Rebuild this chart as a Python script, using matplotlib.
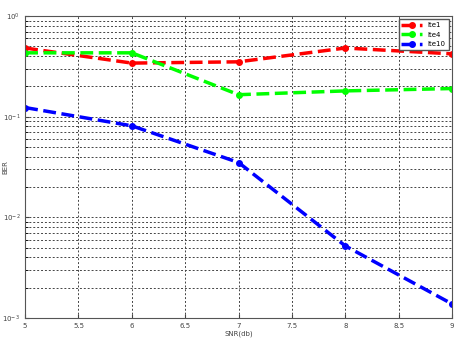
import matplotlib.pyplot as plt
from matplotlib.ticker import LogLocator, NullFormatter

# SNR values and BER for each iteration count
snr = [5, 6, 7, 8, 9]
ite1 = [0.48, 0.34, 0.35, 0.48, 0.42]
ite4 = [0.43, 0.43, 0.165, 0.18, 0.19]
ite10 = [0.123, 0.081, 0.035, 0.0052, 0.00138]

fig = plt.figure(figsize=(4.57, 3.46), dpi=100)
ax = fig.add_axes([0.055, 0.081, 0.934, 0.873])

ax.semilogy(snr, ite1, 'r--', marker='o', markersize=4, linewidth=2.5, label='Ite1')
ax.semilogy(snr, ite4, '--', color='#00ff00', marker='o', markersize=4, linewidth=2.5, label='Ite4')
ax.semilogy(snr, ite10, 'b--', marker='o', markersize=4, linewidth=2.5, label='Ite10')

ax.set_xlim(5, 9)
ax.set_ylim(1e-3, 1)
ax.set_xticks([5, 5.5, 6, 6.5, 7, 7.5, 8, 8.5, 9])
ax.set_xticklabels(['5', '5.5', '6', '6.5', '7', '7.5', '8', '8.5', '9'])
ax.yaxis.set_major_locator(LogLocator(base=10, numticks=10))
ax.yaxis.set_minor_locator(LogLocator(base=10, subs=range(2, 10), numticks=10))
ax.yaxis.set_minor_formatter(NullFormatter())

# dotted grid like the matlab "grid on"
ax.grid(True, which='both', linestyle=(0, (2, 2)), color='#444444', linewidth=0.7)
ax.tick_params(labelsize=5, colors='#444444', length=3, direction='in')
ax.tick_params(which='minor', length=2, direction='in')

ax.set_xlabel('SNR(db)', fontsize=5, color='#444444', labelpad=1)
ax.set_ylabel('BER', fontsize=5, color='#444444')
ax.yaxis.set_label_coords(-0.04, 0.5)

for s in ax.spines.values():
    s.set_color('#555555')

ax.legend(loc='upper right', fontsize=5, handlelength=3, framealpha=1,
          edgecolor='#555555', fancybox=False)

plt.savefig('out.png', dpi=100)
